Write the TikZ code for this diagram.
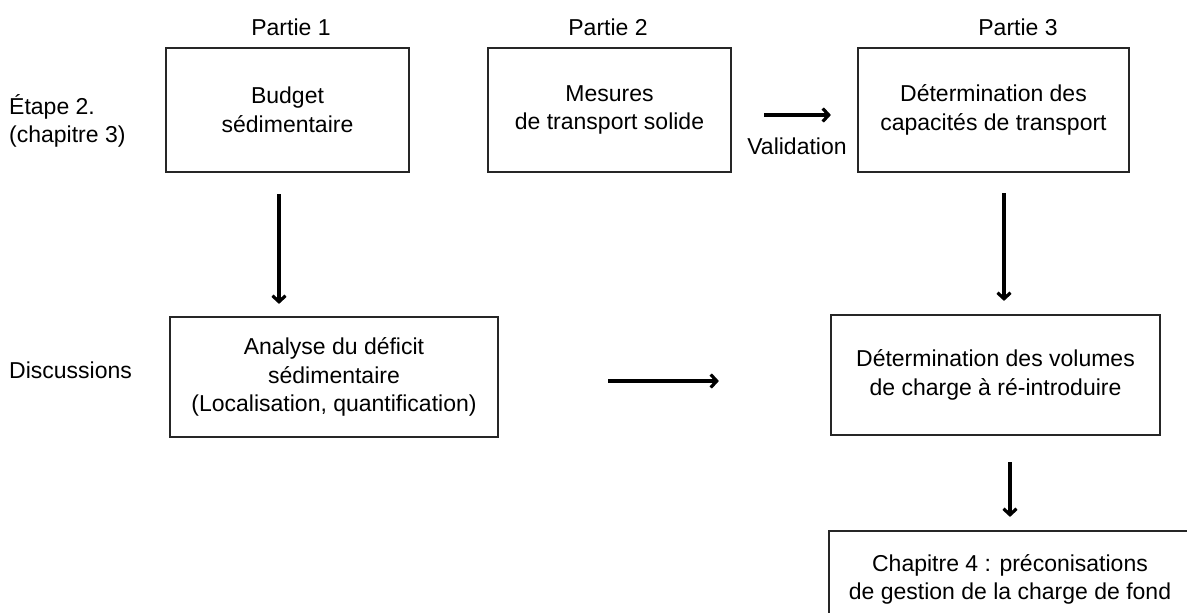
\documentclass[tikz,border=0pt]{standalone}
\usepackage{fontspec}
\setmainfont{Liberation Sans}
\usetikzlibrary{arrows.meta}
\newcommand\fs{\fontsize{23}{28.5}\selectfont}
\begin{document}
\begin{tikzpicture}[x=1pt,y=-1pt,
  box/.style={draw=black!85,line width=2.2pt,align=center,inner sep=0pt,font=\fs},
  lbl/.style={font=\fs,inner sep=0pt},
  arr/.style={line width=3.6pt,-{Straight Barb[length=6pt,width=13pt,line width=3.2pt]}}]
\useasboundingbox[fill=white] (0,0) rectangle (1187,613);
\node[box,minimum width=243pt,minimum height=124pt] (b1) at (287.5,110) {Budget\\sédimentaire};
\node[box,minimum width=243pt,minimum height=124pt] (b2) at (609.5,110) {Mesures\\de transport solide};
\node[box,minimum width=271pt,minimum height=124pt] (b3) at (993.5,110) {Détermination des\\capacités de transport};
\node[box,minimum width=328pt,minimum height=120pt] (b4) at (334,377) {Analyse du déficit\\sédimentaire\\(Localisation, quantification)};
\node[box,minimum width=329pt,minimum height=120pt] (b5) at (995.5,375) {Détermination des volumes\\ de charge à ré-introduire};
\node[box,minimum width=362pt,minimum height=97pt] (b6) at (1010,579.5) {Chapitre 4 : préconisations\\de gestion de la charge de fond};
\node[lbl] (p1) at (291,27) {Partie 1};
\node[lbl] (p2) at (608,27) {Partie 2};
\node[lbl] (p3) at (1018,27) {Partie 3};
\node[lbl,anchor=west,align=left] (et) at (9,121) {Étape 2.\\(chapitre 3)};
\node[lbl,anchor=west] (disc) at (9,370) {Discussions};
\node[lbl] (val) at (797,146) {Validation};
\coordinate (xa) at (279,0);
\coordinate (xb) at (1004,0);
\coordinate (xc) at (1010,0);
\coordinate (ya) at (0,115);
\coordinate (yb) at (0,381);
\draw[arr,shorten <=21pt,shorten >=12pt] (b1.south -| xa) -- (b4.north -| xa);
\draw[arr,shorten <=32pt,shorten >=26pt] (b2.east |- ya) -- (b3.west |- ya);
\draw[arr,shorten <=109pt,shorten >=111pt] (b4.east |- yb) -- (b5.west |- yb);
\draw[arr,shorten <=20pt,shorten >=13pt] (b3.south -| xb) -- (b5.north -| xb);
\draw[arr,shorten <=26pt,shorten >=13pt] (b5.south -| xc) -- (b6.north -| xc);
\end{tikzpicture}
\end{document}
